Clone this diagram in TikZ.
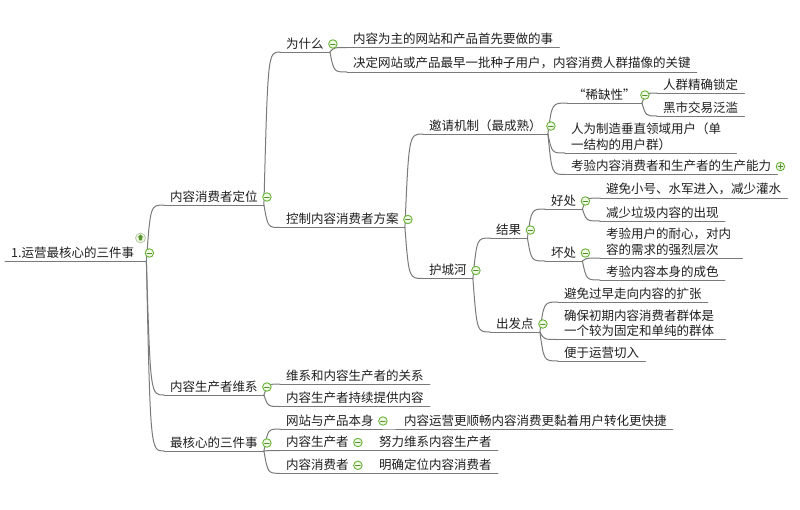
\documentclass[tikz,border=0pt]{standalone}
\usepackage{fontspec}
\setmainfont{Noto Sans CJK SC}
\usetikzlibrary{calc}
\definecolor{linegray}{HTML}{7A7A7A}
\definecolor{foldgreen}{HTML}{6AB23A}
\definecolor{foldfill}{HTML}{EEF8E2}

\begin{document}
\begin{tikzpicture}[x=1pt, y=-1pt, line cap=round, line join=round,
	font=\fontsize{12.5pt}{15.5pt}\selectfont,
	topic/.style={anchor=south west, inner xsep=6pt, inner ysep=2.5pt, text=black!88},
	link/.style={draw=linegray, line width=1pt},
	fold/.style={circle, draw=foldgreen, line width=0.9pt, fill=foldfill, inner sep=0pt, minimum size=8.5pt,
		path picture={\draw[foldgreen!80!black, line width=1pt]
			([xshift=-2.3pt]path picture bounding box.center) -- ([xshift=2.3pt]path picture bounding box.center);}},
	unfold/.style={circle, draw=foldgreen, line width=0.9pt, fill=foldfill, inner sep=0pt, minimum size=8.5pt,
		path picture={\draw[foldgreen!80!black, line width=1pt]
			([xshift=-2.3pt]path picture bounding box.center) -- ([xshift=2.3pt]path picture bounding box.center)
			([yshift=-2.3pt]path picture bounding box.center) -- ([yshift=2.3pt]path picture bounding box.center);}}]
	
	\path[fill=white] (0,0) rectangle (800,509);
	\useasboundingbox (0,0) rectangle (800,509);
	
	%========================
	% root
	%========================
	\node[topic, text width=129pt, align=left] (root) at (5,261) {1.运营最核心的三件事};
	
	%========================
	% branch: 内容消费者定位
	%========================
	\node[topic] (pos) at (164,205) {内容消费者定位};
	\node[topic] (why) at (280,52) {为什么};
	\node[topic] (why1) at (347,47.5) {内容为主的网站和产品首先要做的事};
	\node[topic] (why2) at (347,72) {决定网站或产品最早一批种子用户，内容消费人群描像的关键};
	\node[topic] (ctrl) at (280,227.5) {控制内容消费者方案};
	
	% 邀请机制
	\node[topic] (invite) at (423,134) {邀请机制（最成熟）};
	\node[topic] (scarce) at (567,103) {“稀缺性”};
	\node[topic] (sc1) at (657,93) {人群精确锁定};
	\node[topic] (sc2) at (657,116) {黑市交易泛滥};
	\node[topic, text width=159pt, align=left] (vert) at (565,153) {人为制造垂直领域用户（单\\一结构的用户群）};
	\node[topic] (test) at (565,174.5) {考验内容消费者和生产者的生产能力};
	
	% 护城河
	\node[topic] (moat) at (423,278.5) {护城河};
	\node[topic] (result) at (490,238) {结果};
	\node[topic] (good) at (545,209) {好处};
	\node[topic] (good1) at (600,198) {避免小号、水军进入，减少灌水};
	\node[topic] (good2) at (600,221) {减少垃圾内容的出现};
	\node[topic] (bad) at (545,261) {坏处};
	\node[topic, text width=130pt, align=left] (bad1) at (600,258) {考验用户的耐心，对内\\容的需求的强烈层次};
	\node[topic] (bad2) at (600,280) {考验内容本身的成色};
	\node[topic] (start) at (490,332) {出发点};
	\node[topic] (st1) at (558,302) {避免过早走向内容的扩张};
	\node[topic, text width=155pt, align=left] (st2) at (558,339.5) {确保初期内容消费者群体是\\一个较为固定和单纯的群体};
	\node[topic] (st3) at (558,361) {便于运营切入};
	
	%========================
	% branch: 内容生产者维系
	%========================
	\node[topic] (prod) at (164,395) {内容生产者维系};
	\node[topic] (prod1) at (280,384) {维系和内容生产者的关系};
	\node[topic] (prod2) at (280,406.5) {内容生产者持续提供内容};
	
	%========================
	% branch: 最核心的三件事
	%========================
	\node[topic] (core) at (164,451) {最核心的三件事};
	\node[topic] (site) at (280,429) {网站与产品本身};
	\node[topic] (site1) at (398,429) {内容运营更顺畅内容消费更黏着用户转化更快捷};
	\node[topic] (maker) at (280,450.5) {内容生产者};
	\node[topic] (maker1) at (373,450.5) {努力维系内容生产者};
	\node[topic] (user) at (280,473.3) {内容消费者};
	\node[topic] (user1) at (373,473.3) {明确定位内容消费者};
	
	% underlines
	\foreach \n in {root,pos,why,why1,why2,ctrl,invite,scarce,sc1,sc2,vert,test,moat,result,
		good,good1,good2,bad,bad1,bad2,start,st1,st2,st3,prod,prod1,prod2,core,site,site1,
		maker,maker1,user,user1}
	\draw[link] (\n.south west) -- (\n.south east);
	
	% connectors
	\foreach \p/\c in {root/pos, root/prod, root/core, pos/why, pos/ctrl, why/why1, why/why2,
		ctrl/invite, ctrl/moat, invite/scarce, invite/vert, invite/test, scarce/sc1, scarce/sc2,
		moat/result, moat/start, result/good, result/bad, good/good1, good/good2, bad/bad1, bad/bad2,
		start/st1, start/st2, start/st3, prod/prod1, prod/prod2, core/site, core/maker, core/user,
		site/site1, maker/maker1, user/user1}
	\draw[link] (\p.south east) .. controls ($(\p.south east |- \c.south west)+(4,0)$)
		and ($(\p.south east |- \c.south west)+(4,0)$) .. (\c.south west);
	
	% fold markers
	\foreach \n in {root,pos,why,ctrl,invite,scarce,moat,result,good,bad,start,prod,core,site,maker,user}
	\node[fold] (\n-fold) at ($(\n.south east)+(3,-8)$) {};
	\node[unfold] (test-fold) at ($(test.south east)+(3,-8)$) {};
	
	% drill-up icon
	\node[circle, draw=foldgreen!45!gray!60, fill=foldfill, line width=0.6pt, inner sep=0pt, minimum size=10pt] (root-up) at (140.5,238) {};
	\fill[foldgreen!85!black] ($(root-up)+(0,-3.6)$) -- ++(3,3) -- ++(-1.4,0) -- ++(0,3) -- ++(-3.2,0)
		-- ++(0,-3) -- ++(-1.4,0) -- cycle;
	
\end{tikzpicture}
\end{document}
